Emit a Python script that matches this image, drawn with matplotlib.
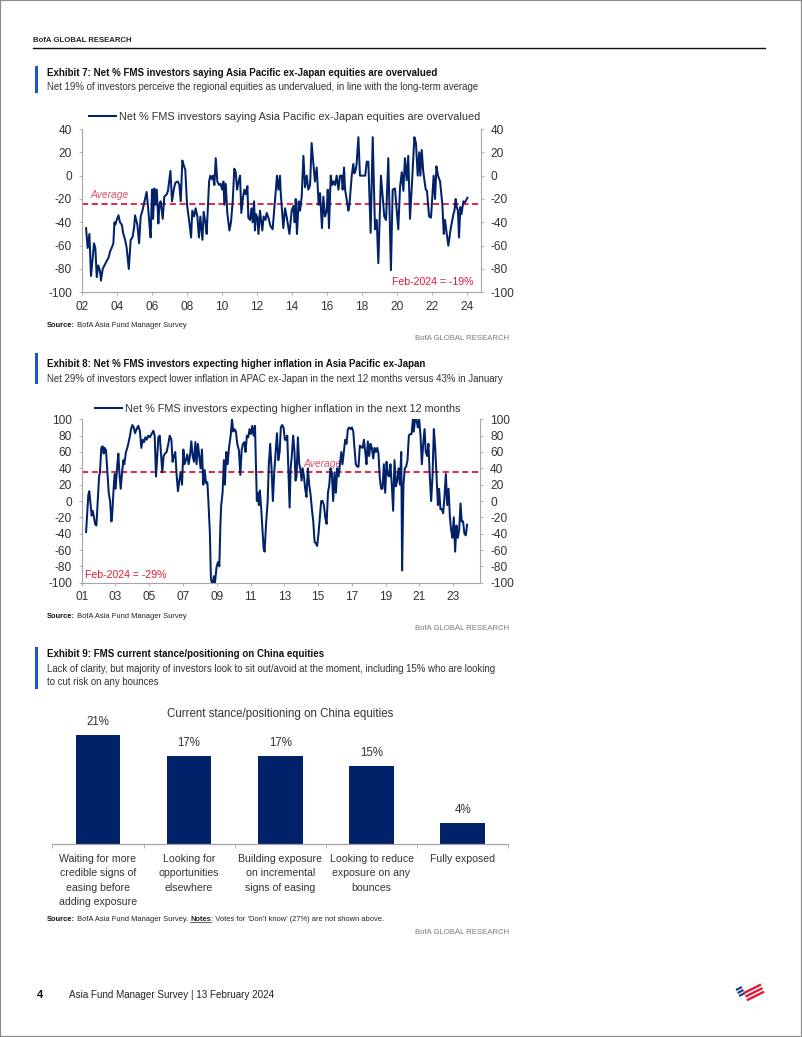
import matplotlib
matplotlib.use('Agg')
import matplotlib.pyplot as plt
from matplotlib.lines import Line2D
from matplotlib.patches import Rectangle

plt.rcParams['font.family'] = ['Liberation Sans Narrow', 'Liberation Sans', 'DejaVu Sans']

NAVY = '#012169'
RED = '#E31837'
RED_LIGHT = '#E2506A'
ACCENT = '#1A56C4'
TXT = '#333333'
SPINE = '#A6A6A6'

# ---- Exhibit 7: net % saying APxJ equities overvalued (decimal year, value)
ov_dates = [
    2002.25, 2002.34, 2002.44, 2002.53, 2002.62, 2002.70, 2002.78, 2002.86, 2002.95,
    2003.05, 2003.10, 2003.20, 2003.33, 2003.47, 2003.54, 2003.62, 2003.71, 2003.81, 2003.87, 2003.92,
    2004.00, 2004.10, 2004.19, 2004.29, 2004.38, 2004.48, 2004.57, 2004.69, 2004.80, 2004.90, 2004.99,
    2005.05, 2005.18, 2005.28, 2005.37, 2005.47, 2005.56, 2005.66, 2005.71, 2005.81, 2005.90, 2005.94,
    2006.02, 2006.08, 2006.15, 2006.21, 2006.29, 2006.38, 2006.44, 2006.51, 2006.63, 2006.72, 2006.86, 2006.93,
    2007.07, 2007.16, 2007.26, 2007.35, 2007.49, 2007.58, 2007.66, 2007.75, 2007.85, 2007.92,
    2008.02, 2008.15, 2008.25, 2008.32, 2008.42, 2008.51, 2008.61, 2008.70, 2008.78, 2008.90, 2008.97,
    2009.07, 2009.14, 2009.28, 2009.35, 2009.45, 2009.50, 2009.58, 2009.66, 2009.75, 2009.85, 2009.94,
    2010.02, 2010.10, 2010.15, 2010.23, 2010.32, 2010.44, 2010.53, 2010.63, 2010.72, 2010.80, 2010.88, 2010.95,
    2011.05, 2011.12, 2011.22, 2011.30, 2011.37, 2011.47, 2011.52, 2011.62, 2011.70, 2011.77, 2011.85, 2011.90, 2011.96,
    2012.04, 2012.10, 2012.19, 2012.32, 2012.40, 2012.50, 2012.57, 2012.67, 2012.78, 2012.91,
    2013.05, 2013.16, 2013.24, 2013.33, 2013.37, 2013.52, 2013.62, 2013.71, 2013.87,
    2014.00, 2014.10, 2014.17, 2014.23, 2014.30, 2014.40, 2014.48, 2014.57, 2014.67, 2014.76, 2014.86, 2014.95,
    2015.05, 2015.14, 2015.24, 2015.33, 2015.43, 2015.54, 2015.62, 2015.73, 2015.81, 2015.90,
    2016.00, 2016.06, 2016.13, 2016.23, 2016.32, 2016.40, 2016.48, 2016.57, 2016.67, 2016.76, 2016.86, 2016.91, 2016.99,
    2017.05, 2017.14, 2017.24, 2017.30, 2017.43, 2017.52, 2017.58, 2017.66, 2017.71, 2017.81, 2017.90,
    2018.00, 2018.10, 2018.20, 2018.29, 2018.38, 2018.51, 2018.63, 2018.76, 2018.86, 2018.95,
    2019.10, 2019.29, 2019.39, 2019.52, 2019.67, 2019.77, 2019.90,
    2020.09, 2020.19, 2020.29, 2020.38, 2020.47, 2020.57, 2020.66, 2020.76, 2020.86,
    2021.01, 2021.10, 2021.20, 2021.29, 2021.35, 2021.43, 2021.52, 2021.66, 2021.73, 2021.85, 2021.96,
    2022.11, 2022.19, 2022.27, 2022.36, 2022.48, 2022.61, 2022.69, 2022.76, 2022.86, 2022.95,
    2023.09, 2023.24, 2023.30, 2023.37, 2023.43, 2023.50, 2023.56, 2023.64, 2023.70, 2023.81, 2023.90, 2024.04,
]
ov_values = [
    -45, -62, -50, -86, -72, -58, -62, -87, -77,
    -82, -90, -80, -76, -72, -70, -65, -62, -58, -40, -42,
    -38, -34, -40, -42, -50, -55, -62, -80, -55, -53, -45,
    -34, -42, -58, -35, -30, -24, -17, -14, -30, -47, -53,
    -12, -37, -11, -25, -12, -41, -25, -22, -37, -18, -16, -13,
    4, -22, -12, -6, -5, -8, -22, 13, 8, 5,
    -25, -40, -53, -30, -35, -28, -35, -53, -35, -55, -31,
    -40, -50, -5, 0, -3, 0, -8, 15, -5, -8, -7,
    -12, -5, -25, -7, -32, -47, -40, -22, 6, 3, -12, -6,
    0, -32, -18, -12, -16, -9, -36, -38, -28, -40, -22, -47, -33,
    -36, -50, -30, -47, -35, -38, -32, -36, -43, -46,
    -20, 0, -12, 0, -14, -45, -28, -35, -50,
    -30, -26, -40, -20, -50, -22, -30, -18, 17, -10, 0, -12,
    -8, 28, 10, -5, 7, -25, -15, -45, -18, -35,
    -30, -12, -45, 0, -8, -5, -8, 0, -12, 0, 0, -12, 7,
    -12, -20, -30, -25, 0, 10, 2, 5, 10, 33, 0,
    0, 0, 0, 12, 12, -49, 33, -46, -38, -75,
    0, -35, -38, 15, -81, -12, -11,
    -46, -10, 3, -13, 15, -4, 17, -37, -10,
    33, 28, 0, 20, 0, 22, 3, -12, -13, -35, -36,
    0, -20, 8, 0, -5, -25, -50, -38, -50, -60,
    -45, -33, -30, -20, -27, -30, -53, -27, -33, -22, -23, -19,
]
ov_average = -24.5

# ---- Exhibit 8: net % expecting higher inflation in next 12 months
infl_dates = [
    2001.26, 2001.39, 2001.45, 2001.53, 2001.59, 2001.65, 2001.73, 2001.79, 2001.87, 2001.95,
    2002.03, 2002.08, 2002.16, 2002.24, 2002.30, 2002.36, 2002.44, 2002.52, 2002.60, 2002.68, 2002.76, 2002.81, 2002.89, 2002.95,
    2003.01, 2003.11, 2003.17, 2003.23, 2003.31, 2003.39, 2003.47, 2003.52, 2003.62, 2003.70, 2003.78, 2003.86, 2003.92,
    2004.00, 2004.08, 2004.16, 2004.25, 2004.35, 2004.45, 2004.53, 2004.61, 2004.69, 2004.77, 2004.85, 2004.94,
    2005.04, 2005.14, 2005.24, 2005.32, 2005.40, 2005.46, 2005.54, 2005.62, 2005.69, 2005.77, 2005.85, 2005.93,
    2006.03, 2006.13, 2006.21, 2006.31, 2006.38, 2006.46, 2006.54, 2006.62, 2006.70, 2006.78, 2006.86, 2006.94,
    2007.02, 2007.09, 2007.17, 2007.25, 2007.33, 2007.41, 2007.49, 2007.57, 2007.65, 2007.73, 2007.80, 2007.88, 2007.96,
    2008.04, 2008.12, 2008.20, 2008.28, 2008.36, 2008.44, 2008.50, 2008.59, 2008.65, 2008.71, 2008.77, 2008.83, 2008.89, 2008.99,
    2009.07, 2009.15, 2009.21, 2009.26, 2009.34, 2009.42, 2009.48, 2009.56, 2009.64, 2009.72, 2009.82, 2009.90, 2009.97,
    2010.05, 2010.13, 2010.21, 2010.31, 2010.39, 2010.47, 2010.55, 2010.63, 2010.70, 2010.78, 2010.86, 2010.94,
    2011.02, 2011.10, 2011.18, 2011.26, 2011.32, 2011.37, 2011.43, 2011.49, 2011.55, 2011.63, 2011.69, 2011.77, 2011.83, 2011.91,
    2012.01, 2012.08, 2012.16, 2012.24, 2012.32, 2012.40, 2012.48, 2012.56, 2012.64, 2012.72, 2012.79, 2012.87, 2012.95,
    2013.03, 2013.11, 2013.17, 2013.25, 2013.31, 2013.37, 2013.45, 2013.52, 2013.60, 2013.66, 2013.72, 2013.80, 2013.88, 2013.94,
    2014.02, 2014.08, 2014.16, 2014.23, 2014.31, 2014.39, 2014.47, 2014.55, 2014.63, 2014.71, 2014.79, 2014.87, 2014.94,
    2015.02, 2015.10, 2015.18, 2015.26, 2015.34, 2015.42, 2015.50, 2015.58, 2015.66, 2015.73, 2015.81, 2015.89, 2015.97,
    2016.05, 2016.13, 2016.21, 2016.29, 2016.37, 2016.44, 2016.52, 2016.60, 2016.68, 2016.76, 2016.84, 2016.92,
    2017.00, 2017.08, 2017.15, 2017.23, 2017.31, 2017.39, 2017.47, 2017.55, 2017.63, 2017.71, 2017.79, 2017.86, 2017.94,
    2018.02, 2018.10, 2018.18, 2018.26, 2018.34, 2018.42, 2018.50, 2018.57, 2018.65, 2018.73, 2018.81, 2018.89, 2018.97,
    2019.05, 2019.13, 2019.21, 2019.28, 2019.36, 2019.44, 2019.52, 2019.60, 2019.68, 2019.76, 2019.84, 2019.92, 2019.97,
    2020.05, 2020.13, 2020.21, 2020.29, 2020.37, 2020.45, 2020.53, 2020.61, 2020.66, 2020.74, 2020.82, 2020.90, 2020.98,
    2021.06, 2021.14, 2021.22, 2021.30, 2021.37, 2021.45, 2021.53, 2021.61, 2021.69, 2021.77, 2021.85, 2021.93,
    2022.01, 2022.09, 2022.16, 2022.24, 2022.32, 2022.40, 2022.48, 2022.56, 2022.64, 2022.72, 2022.80, 2022.87, 2022.95,
    2023.03, 2023.11, 2023.19, 2023.27, 2023.35, 2023.43, 2023.50, 2023.58, 2023.66, 2023.74, 2023.82,
]
infl_values = [
    -38, 7, 12, -5, -18, -12, -20, -28, -30, 0,
    30, 35, 65, 67, 58, 65, 62, 35, 10, 0, -25, -15, 15, 33,
    15, 45, 58, 35, 15, 35, 50, 45, 60, 65, 72, 80, 88,
    93, 90, 83, 88, 92, 85, 65, 75, 72, 78, 75, 80,
    78, 82, 86, 80, 30, 50, 78, 80, 60, 35, 55, 58,
    60, 70, 80, 75, 48, 55, 60, 32, 12, 25, 35, 20,
    63, 45, 50, 57, 45, 55, 73, 55, 48, 72, 45, 70, 55,
    40, 63, 20, 38, 22, 23, 0, -40, -95, -100, -100, -92, -100, -80,
    -75, -80, -30, -5, 10, 50, 20, 60, 45, 65, 80, 100, 85,
    88, 85, 70, 62, 32, 62, 70, 72, 60, 80, 78, 88,
    82, 92, 80, 92, 40, 0, 10, -5, 13, -10, -30, -58, -62, -30,
    0, 45, 70, 40, 0, 35, 60, 83, 50, 60, 90, 93, 90,
    75, 75, 80, 30, -8, 40, 58, 80, 60, 25, 30, 78, 45, 40,
    25, 40, 30, 15, 5, 40, 20, 8, -10, -25, -50, -52, -55,
    -40, -20, 0, 0, -5, -20, -28, 10, 20, 40, 35, 0, 35,
    10, 40, 30, 45, 60, 45, 60, 75, 70, 88, 90, 88,
    90, 85, 65, 45, 42, 42, 68, 66, 65, 75, 60, 45, 73,
    55, 70, 65, 52, 65, 60, 65, 58, 28, 15, 15, 45, 10,
    48, 32, 30, 45, 20, -12, 50, 18, 25, 40, 20, 60, -85,
    20, 40, 42, 50, 80, 82, 82, 100, 85, 100, 100, 90, 100,
    80, 45, 70, 88, 60, 55, 70, 30, 0, 30, 88, 65,
    30, -5, 15, -10, -10, -15, 5, 33, -5, 15, -20, -35, -45,
    -20, -62, -30, -45, -35, -3, -25, -25, -40, -42, -29,
]
infl_average = 36

# ---- Exhibit 9: current stance on China equities
stance_labels = [
    'Waiting for more\ncredible signs of\neasing before\nadding exposure',
    'Looking for\nopportunities\nelsewhere',
    'Building exposure\non incremental\nsigns of easing',
    'Looking to reduce\nexposure on any\nbounces',
    'Fully exposed',
]
stance_values = [21, 17, 17, 15, 4]

assert len(ov_dates) == len(ov_values)
assert len(infl_dates) == len(infl_values)

W, H = 802, 1037
fig = plt.figure(figsize=(W / 100, H / 100), dpi=100)


def fx(x):
    return x / W


def fy(y):
    return 1 - y / H


def exhibit_header(title, sub_lines, y_title, bar_top, bar_bot):
    fig.add_artist(Rectangle((fx(35), fy(bar_bot)), 3 / W, (bar_bot - bar_top) / H,
                             color=ACCENT, transform=fig.transFigure, lw=0))
    fig.text(fx(47), fy(y_title), title, fontsize=7.0, fontweight='bold',
             color='#111111', va='center')
    for i, s in enumerate(sub_lines):
        fig.text(fx(47), fy(y_title + 14.5 + 13.5 * i), s, fontsize=6.95, color=TXT, va='center')


def source_line(y, parts):
    # parts: list of (text, bold); pieces chained left to right
    prev = None
    texts = []
    for s, bold in parts:
        w = 'bold' if bold else 'normal'
        if prev is None:
            t = fig.text(fx(47), fy(y), s, fontsize=5.4, fontweight=w, color='#111111', va='bottom')
        else:
            t = plt.annotate(s, xy=(1, 0), xycoords=prev, va='bottom', ha='left',
                             fontsize=5.4, fontweight=w, color='#222222', annotation_clip=False)
        texts.append(t)
        prev = t
    return texts


def bofa_tag(y):
    fig.text(fx(509), fy(y), 'BofA GLOBAL RESEARCH', fontsize=5.6, color='#7A7A7A',
             ha='right', va='center')


def line_panel(rect, dates, values, avg, xlim, ylim, xticks, legend_label, legend_x, legend_y,
               avg_pos, last_text, last_pos, last_ha):
    ax = fig.add_axes(rect)
    ax.plot(dates, values, color=NAVY, lw=1.45, label=legend_label, zorder=3)
    ax.axhline(avg, color=RED, lw=1.3, ls=(0, (3.4, 2.0)), zorder=2)
    ax.set_xlim(*xlim)
    ax.set_ylim(*ylim)
    yt = list(range(ylim[0], ylim[1] + 1, 20))
    ax.set_yticks(yt)
    ax.set_yticklabels([str(v) for v in yt])
    ax.set_xticks(xticks)
    ax.set_xticklabels([f'{int(v) % 100:02d}' for v in xticks])
    ax.spines['top'].set_visible(False)
    for s in ('left', 'right', 'bottom'):
        ax.spines[s].set_color(SPINE)
        ax.spines[s].set_linewidth(0.8)
    ax.tick_params(axis='y', left=True, right=True, labelleft=True, labelright=True,
                   length=2, width=0.6, color=SPINE, labelcolor=TXT, labelsize=8.6, pad=5)
    ax.tick_params(axis='x', length=2, width=0.6, color=SPINE, labelcolor=TXT,
                   labelsize=8.6, pad=4)
    ax.text(avg_pos[0], avg_pos[1], 'Average', transform=ax.transAxes, fontsize=7.4,
            style='italic', color=RED_LIGHT, va='center', ha='left', zorder=1)
    ax.text(last_pos[0], last_pos[1], last_text, transform=ax.transAxes, fontsize=7.6,
            color=RED, va='center', ha=last_ha, zorder=4)
    ax.legend(loc='center left', bbox_to_anchor=(fx(legend_x), fy(legend_y)),
              bbox_transform=fig.transFigure, frameon=False, fontsize=7.8,
              handlelength=2.5, handletextpad=0.3, borderpad=0, borderaxespad=0,
              labelcolor=TXT)
    return ax


# page frame and header
fig.add_artist(Rectangle((0, 0), 1, 1, fill=False, ec='#8C8C8C', lw=1.6,
                         transform=fig.transFigure))
fig.text(fx(33), fy(41), 'BofA GLOBAL RESEARCH', fontsize=5.6, fontweight='bold',
         color='#222222', va='center')
fig.add_artist(Line2D([fx(33), fx(765)], [fy(48), fy(48)], color='#111111', lw=1.0))

# Exhibit 7
exhibit_header('Exhibit 7: Net % FMS investors saying Asia Pacific ex-Japan equities are overvalued',
               ['Net 19% of investors perceive the regional equities as undervalued, in line with the long-term average'],
               73, 66, 93)
line_panel([fx(81.7), fy(292.3), (480.7 - 81.7) / W, (292.3 - 129) / H],
           ov_dates, ov_values, ov_average, (2002.0, 2024.8), (-100, 40),
           list(range(2002, 2025, 2)),
           'Net % FMS investors saying Asia Pacific ex-Japan equities are overvalued', 89, 117,
           (0.021, 0.596), 'Feb-2024 = -19%', (0.981, 0.063), 'right')
source_line(329, [('Source:', True), (' BofA Asia Fund Manager Survey', False)])
bofa_tag(338)

# Exhibit 8
exhibit_header('Exhibit 8: Net % FMS investors expecting higher inflation in Asia Pacific ex-Japan',
               ['Net 29% of investors expect lower inflation in APAC ex-Japan in the next 12 months versus 43% in January'],
               364, 353, 384)
line_panel([fx(81.7), fy(582.7), (480.3 - 81.7) / W, (582.7 - 419.3) / H],
           infl_dates, infl_values, infl_average, (2001.0, 2024.6), (-100, 100),
           list(range(2001, 2024, 2)),
           'Net % FMS investors expecting higher inflation in the next 12 months', 95, 409,
           (0.556, 0.726), 'Feb-2024 = -29%', (0.008, 0.047), 'left')
source_line(620, [('Source:', True), (' BofA Asia Fund Manager Survey', False)])
bofa_tag(629)

# Exhibit 9
exhibit_header('Exhibit 9: FMS current stance/positioning on China equities',
               ['Lack of clarity, but majority of investors look to sit out/avoid at the moment, including 15% who are looking',
                'to cut risk on any bounces'],
               654, 647, 689)
ax3 = fig.add_axes([fx(52.3), fy(844.3), (508.3 - 52.3) / W, (844.3 - 713.8) / H])
xs = list(range(len(stance_values)))
bars = ax3.bar(xs, stance_values, width=0.49, color=NAVY)
ax3.bar_label(bars, labels=[f'{v}%' for v in stance_values], padding=5, fontsize=8.3, color=TXT)
ax3.set_xlim(-0.5, len(stance_values) - 0.5)
ax3.set_ylim(0, 25)
ax3.set_yticks([])
ax3.set_xticks(xs)
ax3.set_xticklabels(stance_labels, fontsize=7.6, color=TXT, linespacing=1.55, va='top')
ax3.set_xticks([x - 0.5 for x in range(len(stance_values) + 1)], minor=True)
ax3.tick_params(axis='x', which='major', length=0, pad=7)
ax3.tick_params(axis='x', which='minor', length=3, width=0.6, color=SPINE)
for s in ('left', 'right', 'top'):
    ax3.spines[s].set_visible(False)
ax3.spines['bottom'].set_color(SPINE)
ax3.spines['bottom'].set_linewidth(0.9)
ax3.text(0.5, 1.0, 'Current stance/positioning on China equities', transform=ax3.transAxes,
         ha='center', va='center', fontsize=8.3, color=TXT)
src9 = source_line(923, [('Source:', True), (' BofA Asia Fund Manager Survey. ', False),
                         ('Notes', True), (': Votes for \u2018Don\u2019t know\u2019 (27%) are not shown above.', False)])
bofa_tag(932)

# footer
fig.text(fx(37), fy(995), '4', fontsize=8, fontweight='bold', color='#111111', va='center')
fig.text(fx(69), fy(995), 'Asia Fund Manager Survey | 13 February 2024', fontsize=7.1,
         color='#222222', va='center')

# small flag-style logo
for i in range(3):
    fig.add_artist(Line2D([fx(736 + 1.5 * i), fx(742 + 1.5 * i)], [fy(990 + 3 * i), fy(987 + 3 * i)],
                          color='#1F3F8F', lw=1.6, solid_capstyle='butt'))
for i in range(3):
    fig.add_artist(Line2D([fx(744 + 1.5 * i), fx(761 + 1.5 * i)], [fy(993 + 3.6 * i), fy(984.5 + 3.6 * i)],
                          color='#E31837', lw=1.7, solid_capstyle='butt'))

# underline "Notes"
fig.canvas.draw()
bb = src9[2].get_window_extent().transformed(fig.transFigure.inverted())
fig.add_artist(Line2D([bb.x0, bb.x1], [bb.y0 + 0.0012, bb.y0 + 0.0012], color='#222222', lw=0.5))

fig.savefig('out.png', dpi=100)
